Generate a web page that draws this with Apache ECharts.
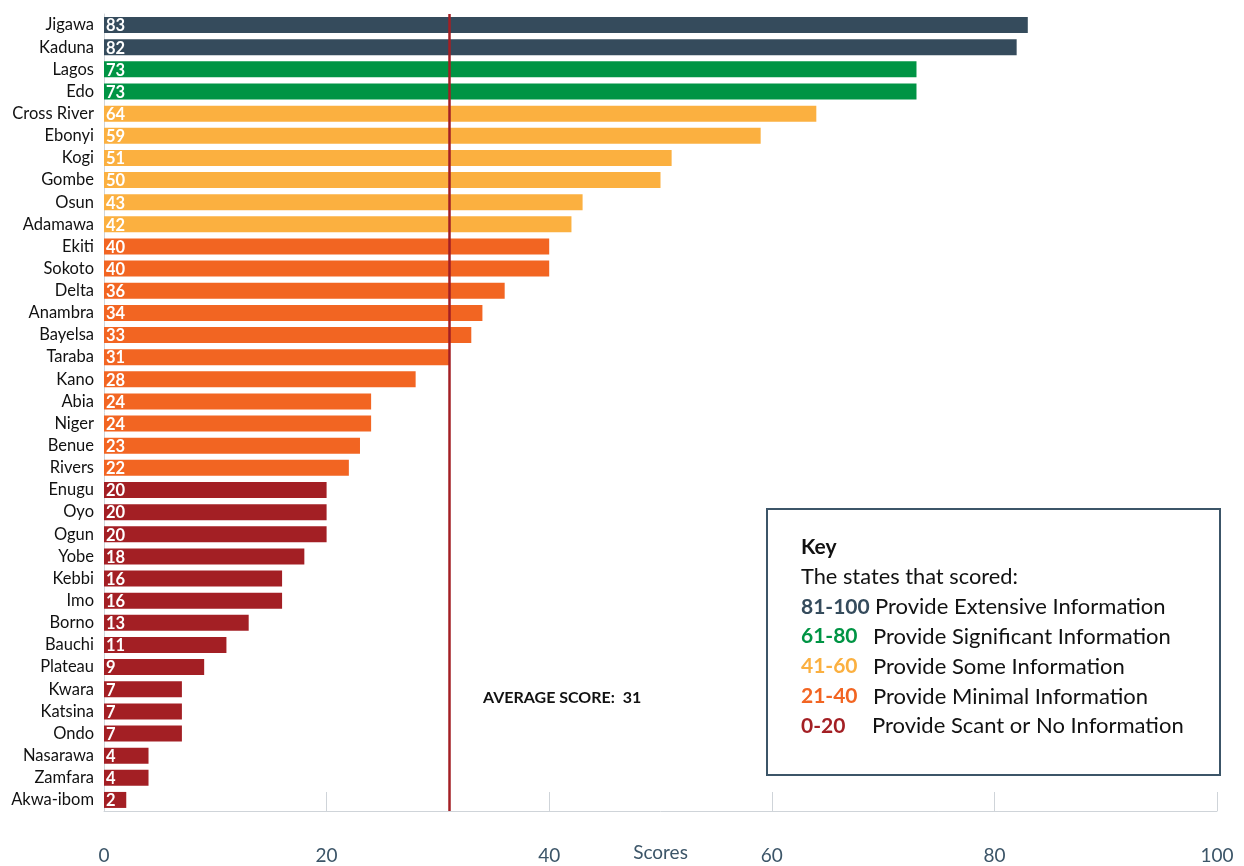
<!DOCTYPE html>
<html>
<head>
<meta charset="utf-8">
<title>State Scores</title>
<script src="https://cdn.jsdelivr.net/npm/echarts@6/dist/echarts.min.js"></script>
<style>
  html, body { margin: 0; padding: 0; background: #ffffff; }
  #chart { width: 1244px; height: 866px; }
</style>
</head>
<body>
<div id="chart"></div>
<script>
// States, ordered from highest to lowest score
const states = [
  'Jigawa', 'Kaduna', 'Lagos', 'Edo', 'Cross River', 'Ebonyi', 'Kogi', 'Gombe',
  'Osun', 'Adamawa', 'Ekiti', 'Sokoto', 'Delta', 'Anambra', 'Bayelsa', 'Taraba',
  'Kano', 'Abia', 'Niger', 'Benue', 'Rivers', 'Enugu', 'Oyo', 'Ogun', 'Yobe',
  'Kebbi', 'Imo', 'Borno', 'Bauchi', 'Plateau', 'Kwara', 'Katsina', 'Ondo',
  'Nasarawa', 'Zamfara', 'Akwa-ibom'
];
const scores = [
  83, 82, 73, 73, 64, 59, 51, 50,
  43, 42, 40, 40, 36, 34, 33, 31,
  28, 24, 24, 23, 22, 20, 20, 20, 18,
  16, 16, 13, 11, 9, 7, 7, 7,
  4, 4, 2
];
// Rating tier for each state (index into the band arrays below)
const tiers = [
  0, 0, 1, 1, 2, 2, 2, 2,
  2, 2, 3, 3, 3, 3, 3, 3,
  3, 3, 3, 3, 3, 4, 4, 4, 4,
  4, 4, 4, 4, 4, 4, 4, 4,
  4, 4, 4
];
const averageScore = 31;

// Score bands used for bar colours and the key
const bandRanges = ['81-100', '61-80', '41-60', '21-40', '0-20'];
const bandColors = ['#354b5c', '#009444', '#fbb040', '#f26522', '#a31f24'];
const bandTexts = [
  'Provide Extensive Information',
  'Provide Significant Information',
  'Provide Some Information',
  'Provide Minimal Information',
  'Provide Scant or No Information'
];

const FONT = 'Lato, "Open Sans", sans-serif';
const chart = echarts.init(document.getElementById('chart'), null, { renderer: 'canvas' });

// Key box contents
const keyX = 801, keyFirst = 547, lineH = 29.9;
const descX = [875, 873, 873, 873, 872];
const keyChildren = [
  {
    type: 'rect',
    shape: { x: 767, y: 509, width: 453, height: 266 },
    style: { fill: '#ffffff', stroke: '#3c5568', lineWidth: 2 }
  },
  {
    type: 'text',
    x: keyX, y: keyFirst,
    style: { text: 'Key', font: 'bold 21px ' + FONT, fill: '#111111', verticalAlign: 'middle' }
  },
  {
    type: 'text',
    x: keyX, y: keyFirst + lineH,
    style: { text: 'The states that scored:', font: '21.8px ' + FONT, fill: '#111111', verticalAlign: 'middle' }
  }
];
bandRanges.forEach((r, i) => {
  keyChildren.push({
    type: 'text',
    x: keyX, y: keyFirst + lineH * (i + 2),
    style: { text: r, font: 'bold 21px ' + FONT, fill: bandColors[i], verticalAlign: 'middle' }
  });
  keyChildren.push({
    type: 'text',
    x: descX[i], y: keyFirst + lineH * (i + 2),
    style: { text: bandTexts[i], font: '22px ' + FONT, fill: '#111111', verticalAlign: 'middle' }
  });
});

chart.setOption({
  animation: false,
  backgroundColor: '#ffffff',
  textStyle: { fontFamily: FONT },
  grid: { left: 104, right: 27, top: 14, bottom: 55, containLabel: false, outerBoundsMode: 'none' },
  xAxis: {
    type: 'value',
    min: 0,
    max: 100,
    interval: 20,
    name: 'Scores',
    nameLocation: 'middle',
    nameGap: 32,
    nameMoveOverlap: false,
    nameTextStyle: { color: '#3c5568', fontSize: 19, fontFamily: FONT },
    axisLine: { show: true, lineStyle: { color: '#cfd4d9', width: 1 } },
    axisTick: { show: true, inside: true, length: 19, lineStyle: { color: '#cfd4d9', width: 1 } },
    axisLabel: { color: '#3c5568', fontSize: 19, margin: 35, fontFamily: FONT },
    splitLine: { show: false }
  },
  yAxis: {
    type: 'category',
    inverse: true,
    data: states,
    axisLine: { show: true, lineStyle: { color: '#cfd4d9', width: 1 } },
    axisTick: { show: false },
    axisLabel: { color: '#111111', fontSize: 16.5, margin: 10, fontFamily: FONT }
  },
  series: [
    {
      type: 'bar',
      barWidth: 16,
      data: scores.map((v, i) => ({ value: v, itemStyle: { color: bandColors[tiers[i]] } })),
      label: {
        show: true,
        position: 'insideLeft',
        distance: 2,
        offset: [0, 1],
        color: '#ffffff',
        fontWeight: 'bold',
        fontSize: 16.5,
        fontFamily: FONT
      },
      markLine: {
        silent: true,
        symbol: 'none',
        label: { show: false },
        lineStyle: { color: '#a31f24', width: 2.5, type: 'solid' },
        data: [{ xAxis: averageScore }]
      }
    }
  ],
  graphic: [
    {
      type: 'text',
      x: 483, y: 698,
      style: { text: 'AVERAGE SCORE:  ' + averageScore, font: 'bold 16px ' + FONT, fill: '#111111', verticalAlign: 'middle' }
    },
    { type: 'group', children: keyChildren }
  ]
});
</script>
</body>
</html>
